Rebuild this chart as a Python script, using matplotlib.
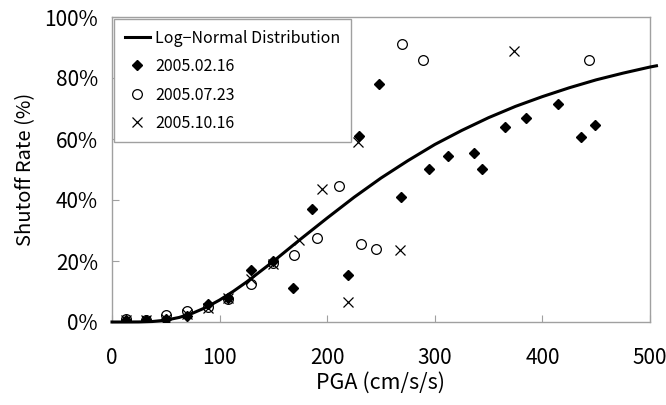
import matplotlib
matplotlib.use("Agg")
import matplotlib.pyplot as plt
from matplotlib.ticker import FuncFormatter

plt.rcParams['font.family'] = ['Noto Sans CJK JP', 'DejaVu Sans']

# Log-normal curve
curve_x = [0, 12.5, 25, 37.5, 50, 62.5, 75, 87.5, 100, 112.5, 125, 150, 175, 200,
           225, 250, 275, 300, 325, 350, 375, 400, 425, 450, 475, 500, 506]
curve_y = [0, 0, 0.02, 0.16, 0.6, 1.5, 2.9, 4.8, 7.2, 10.0, 13.1, 19.9, 27.1, 34.1,
           40.9, 47.2, 52.9, 58.2, 62.8, 67.0, 70.7, 73.9, 76.8, 79.4, 81.6, 83.6, 84.0]

# 2005.02.16 (filled diamonds)
feb_x = [13, 32, 50, 70, 89, 108, 129, 150, 168, 186, 219, 229.5, 248, 268.5,
         294.5, 312, 336, 343.5, 365, 385, 414.5, 436, 449]
feb_y = [0.5, 0.5, 1.0, 2.0, 6.0, 8.0, 17.0, 20.0, 11.0, 37.0, 15.5, 61.0, 78.0, 41.0,
         50.2, 54.5, 55.5, 50.2, 64.0, 67.0, 71.5, 60.5, 64.5]

# 2005.07.23 (open circles)
jul_x = [13, 32, 50, 70, 89, 108, 129, 150, 169, 190.5, 211, 231.5, 245, 269.5, 289, 443]
jul_y = [1.0, 0.8, 2.3, 3.6, 5.0, 7.5, 12.5, 19.5, 22.0, 27.5, 44.6, 25.6, 24.0, 91.0, 85.8, 85.8]

# 2005.10.16 (x marks)
oct_x = [13, 32, 50, 70, 89, 108, 129, 150, 174, 195, 219, 228.6, 268, 373.6]
oct_y = [0.5, 0.5, 1.0, 2.5, 4.6, 8.0, 14.0, 19.0, 27.0, 43.6, 6.5, 59.0, 23.6, 89.0]

x_ticks = [0, 100, 200, 300, 400, 500]
y_ticks = [0, 20, 40, 60, 80, 100]

fig = plt.figure(figsize=(6.66, 4.05), dpi=100)
ax = fig.add_axes([112/666, 1-322/405, (650-112)/666, (322-17)/405])

ax.plot(curve_x, curve_y, color='black', lw=2.2, label='Log\u2212Normal Distribution',
        clip_on=False, zorder=3, solid_joinstyle='round')
ax.plot(feb_x, feb_y, ls='none', marker='D', ms=5.5, mfc='black', mec='black',
        label='2005.02.16', zorder=4)
ax.plot(jul_x, jul_y, ls='none', marker='o', ms=7, mfc='none', mec='black', mew=0.9,
        label='2005.07.23', zorder=4)
ax.plot(oct_x, oct_y, ls='none', marker='x', ms=7, mec='black', mew=0.9,
        label='2005.10.16', zorder=4)

ax.set_xlim(0, 500)
ax.set_ylim(0, 100)
ax.set_xticks(x_ticks)
ax.set_yticks(y_ticks)
ax.yaxis.set_major_formatter(FuncFormatter(lambda v, p: f"{int(v)}%"))
ax.tick_params(direction='in', length=5, color='#a0a0a0', labelsize=15, pad=10)
ax.tick_params(axis='x', pad=18)
for s in ax.spines.values():
    s.set_color('#a0a0a0')
    s.set_linewidth(1)

ax.set_xlabel('PGA (cm/s/s)', fontsize=15.5, labelpad=2)
ax.set_ylabel('Shutoff Rate (%)', fontsize=14.5, labelpad=6)

leg = ax.legend(loc='upper left', bbox_to_anchor=(0.004, 0.993), fontsize=11.5,
                frameon=True, fancybox=False, edgecolor='#a0a0a0', framealpha=1,
                handlelength=1.6, handletextpad=0.3, borderpad=0.65, labelspacing=0.72,
                borderaxespad=0, numpoints=1)
leg.get_frame().set_linewidth(1)

fig.savefig('out.png', dpi=100)
